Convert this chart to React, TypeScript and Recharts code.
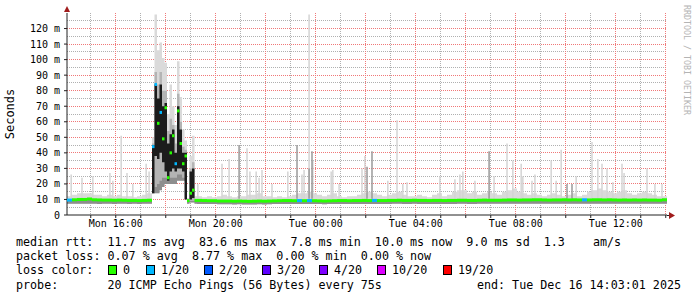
import React from "react";
import {
  ComposedChart,
  Area,
  Scatter,
  XAxis,
  YAxis,
  ReferenceLine,
  CartesianGrid,
} from "recharts";

// smokeping 24h graph, times are minutes after Mon 14:03:01 (graph start)
// 12 min bins, 6 min bins through the burst around 17:30
const binStart = [
  0, 12, 24, 36, 48, 60, 72, 84, 96, 108, 120, 132, 144, 156, 168, 180, 192,
  204, 210, 216, 222, 228, 234, 240, 246, 252, 258, 264, 270, 276, 282, 288, 294, 300, 306,
  312, 324, 336, 348, 360, 372, 384, 396, 408, 420, 432, 444, 456, 468, 480, 492, 504, 516,
  528, 540, 552, 564, 576, 588, 600, 612, 624, 636, 648, 660, 672, 684, 696, 708, 720, 732,
  744, 756, 768, 780, 792, 804, 816, 828, 840, 852, 864, 876, 888, 900, 912, 924, 936, 948,
  960, 972, 984, 996, 1008, 1020, 1032, 1044, 1056, 1068, 1080, 1092, 1104, 1116, 1128,
  1140, 1152, 1164, 1176, 1188, 1200, 1212, 1224, 1236, 1248, 1260, 1272, 1284, 1296, 1308,
  1320, 1332, 1344, 1356, 1368, 1380, 1392, 1404, 1416, 1428,
];
const END = 1440;

// median rtt (ms)
const median = [
  9.6, 9.8, 10.0, 10.0, 10.3, 9.8, 9.7, 9.6, 9.6, 9.5, 9.6, 9.5, 9.4, 9.4, 9.3, 9.4, 9.5,
  44, 84, 59, 66, 49, 69, 24, 40, 51, 33, 67, 46, 33, 38, 9.3, 14, 16, 9.4,
  9.4, 9.3, 9.2, 9.2, 9.0, 9.0, 9.0, 8.9, 9.0, 8.9, 8.8, 8.9, 9.0, 8.9, 9.0, 9.1, 9.2, 9.3,
  9.3, 9.2, 9.3, 9.2, 9.3, 9.2, 9.1, 9.0, 9.1, 9.2, 9.3, 9.3, 9.2, 9.3, 9.3, 9.4, 9.3, 9.4,
  9.3, 9.3, 9.4, 9.4, 9.5, 9.4, 9.4, 9.5, 9.4, 9.4, 9.3, 9.4, 9.4, 9.3, 9.4, 9.4, 9.5, 9.5,
  9.4, 9.4, 9.5, 9.6, 9.5, 9.5, 9.5, 9.6, 9.7, 9.7, 9.6, 9.7, 9.7, 9.8, 9.8, 9.7, 9.6, 9.7,
  9.7, 9.8, 9.7, 9.8, 9.7, 9.8, 9.7, 9.8, 9.8, 9.7, 9.8, 9.7, 9.6, 9.7, 9.6, 9.7, 9.6, 9.7,
  9.6, 9.6, 9.5, 9.8,
];

// smoke bottom / top (ms)
const smokeLo = [
  7.2, 7.3, 7.2, 7.2, 7.3, 7.2, 7.1, 7.2, 7.2, 7.1, 7.2, 7.2, 7.1, 7.2, 7.1, 7.2, 7.2,
  14, 14, 14, 16, 18, 20, 20, 20, 20, 20, 22, 22, 22, 22, 7.2, 8, 8, 7.2,
  7.1, 7.0, 7.0, 7.0, 6.9, 6.9, 6.9, 6.8, 6.9, 6.8, 6.8, 6.8, 6.9, 6.8, 6.9, 7.0, 7.0, 7.1,
  7.1, 7.0, 7.1, 7.0, 7.1, 7.0, 7.0, 6.9, 7.0, 7.0, 7.1, 7.1, 7.0, 7.1, 7.1, 7.1, 7.1, 7.1,
  7.1, 7.1, 7.1, 7.2, 7.2, 7.1, 7.1, 7.2, 7.1, 7.1, 7.1, 7.1, 7.1, 7.1, 7.1, 7.1, 7.2, 7.2,
  7.1, 7.1, 7.2, 7.2, 7.2, 7.2, 7.2, 7.2, 7.3, 7.3, 7.2, 7.3, 7.3, 7.3, 7.3, 7.3, 7.2, 7.3,
  7.3, 7.3, 7.3, 7.3, 7.3, 7.3, 7.3, 7.3, 7.3, 7.3, 7.3, 7.3, 7.2, 7.3, 7.2, 7.3, 7.2, 7.3,
  7.2, 7.2, 7.2, 7.3,
];
const smokeHi = [
  12, 13, 14, 14, 14, 13, 13, 12, 13, 12, 13, 12, 12, 11.5, 12, 13, 14,
  50, 129, 106, 111, 101, 98, 65, 84, 70, 58, 99, 76, 55, 48, 11, 38, 51, 12,
  12, 11.5, 12, 11.5, 12, 13, 12, 11.5, 12, 12, 13, 13, 14, 12, 12, 11.5, 12, 11.5,
  12, 13, 14, 14, 15, 14, 13, 12, 13, 14, 12, 11.5, 12, 12, 13, 14, 15, 14,
  13, 12, 13, 14, 15, 13, 12, 12, 13, 12, 11.5, 13, 14, 12, 13, 15, 16, 16,
  14, 15, 13, 14, 15, 14, 13, 15, 16, 17, 15, 14, 13, 14, 13, 12, 13, 14,
  13, 12, 13, 14, 12, 13, 15, 16, 17, 16, 15, 14, 15, 16, 14, 13, 14, 15,
  14, 13, 12, 12,
];

// index into LOSS_LABELS (0 = no loss, 1 = 1/20 ...)
const lossIdx = [
  1, 0, 0, 0, 0, 0, 0, 0, 0, 0, 0, 0, 0, 0, 0, 0, 0,
  1, 1, 0, 1, 0, 0, 0, 0, 0, 1, 0, 0, 0, 0, 0, 0, 0, 0,
  0, 0, 0, 0, 0, 0, 0, 0, 0, 0, 0, 0, 0, 0, 0, 0, 0, 0,
  0, 0, 1, 0, 1, 0, 0, 0, 0, 0, 0, 0, 0, 0, 0, 0, 0, 1,
  0, 0, 0, 0, 0, 0, 0, 0, 0, 0, 0, 0, 0, 0, 0, 0, 0, 0,
  0, 0, 0, 0, 0, 0, 0, 0, 0, 0, 0, 0, 0, 0, 0, 0, 0, 0,
  0, 0, 0, 0, 0, 1, 0, 0, 0, 0, 0, 0, 0, 0, 0, 0, 0, 0,
  0, 0, 0, 0,
];

// denser smoke during the burst (ms)
const burstTimes = [204, 210, 216, 222, 228, 234, 240, 246, 252, 258, 264, 270, 276, 282, 288, 294, 300, 306];
const burstMidLo = [14, 18, 20, 22, 24, 24, 22, 24, 24, 24, 26, 26, 24, 24, null, 9, 9, null];
const burstMidHi = [46, 92, 84, 92, 80, 80, 54, 62, 58, 46, 78, 60, 44, 42, null, 30, 34, null];
const burstDarkLo = [14, 38, 36, 40, 34, 28, 22, 28, 30, 28, 30, 30, 28, 10, null, 10, 11, null];
const burstDarkHi = [45, 84, 75, 84, 70, 72, 46, 52, 55, 40, 70, 55, 40, 40, null, 28, 30, null];

// single pings well above the rest
const spikeTimes = [
  10, 36, 62, 103, 110, 130, 144, 158, 190, 197, 314, 372, 389, 432, 439, 454, 461, 468,
  492, 530, 564, 569, 581, 590, 634, 638, 653, 708, 715, 770, 792, 806, 816, 895, 931, 943,
  950, 979, 1025, 1056, 1070, 1090, 1094, 1116, 1123, 1162, 1174, 1186, 1222, 1260, 1274,
  1284, 1296, 1310, 1332, 1337, 1392, 1411, 1428,
];
const spikeTops = [
  26, 24, 25, 27, 22, 51, 27, 20, 33, 28, 20, 33, 36, 43, 28, 28, 24, 29,
  20, 28, 26, 29, 129, 35, 28, 29, 20, 30, 38, 22, 61, 20, 21, 25, 23, 26,
  28, 22, 25, 46, 35, 33, 25, 22, 26, 35, 22, 42, 25, 47, 36,
  33, 30, 21, 33, 27, 30, 20, 20,
];
const darkSpikeTimes = [413, 552, 581, 588, 720, 732, 1013, 1200, 1212];
const darkSpikeTops = [45, 45, 30, 41, 31, 41, 41, 20, 20];

// hourly grid starting 15:00, every second one (even hours) is a major line
const hourTicks = Array.from({ length: 24 }, (_, i) => 57 + i * 60);
const labelTimes = [117, 357, 597, 837, 1077, 1317];
const labelTexts = ["Mon 16:00", "Mon 20:00", "Tue 00:00", "Tue 04:00", "Tue 08:00", "Tue 12:00"];
const yTicks = [0, 10, 20, 30, 40, 50, 60, 70, 80, 90, 100, 110, 120];
// 5 ms grid, every second one (multiples of 10) is a major line
const yGrid = [5, 10, 15, 20, 25, 30, 35, 40, 45, 50, 55, 60, 65, 70, 75, 80, 85, 90, 95, 100, 105, 110, 115, 120, 125];

const LOSS_LABELS = ["0", "1/20", "2/20", "3/20", "4/20", "10/20", "19/20"];
const LOSS_COLORS = ["#26ff00", "#00b8ff", "#0059ff", "#5e00ff", "#7e00ff", "#dd00ff", "#ff0000"];
const LOSS_BOX_X = [108, 146, 204, 262, 319, 377, 443];

const MONO = "'DejaVu Sans Mono', monospace";
const GRID_RED = "#f07878";
const GRID_GREY = "#b0b0b0";
const PX_PER_MIN = 600 / 1440;

const rows: any[] = [];
const medians: any[] = [];
binStart.forEach((start, i) => {
  const end = i + 1 < binStart.length ? binStart[i + 1] : END;
  const k = burstTimes.indexOf(start);
  const v = {
    lo: smokeLo[i],
    hi: smokeHi[i],
    med: median[i],
    midLo: k >= 0 ? burstMidLo[k] : null,
    midHi: k >= 0 ? burstMidHi[k] : null,
    darkLo: k >= 0 ? burstDarkLo[k] : null,
    darkHi: k >= 0 ? burstDarkHi[k] : null,
  };
  rows.push({ t: start, ...v }, { t: end, ...v });
  medians.push({ t: (start + end) / 2, med: median[i], loss: lossIdx[i], span: end - start });
});

function MedianMark(props: any) {
  const { cx, cy, payload } = props;
  const w = payload.span * PX_PER_MIN;
  return (
    <rect x={cx - w / 2} y={cy - 1.5} width={w} height={3} fill={LOSS_COLORS[payload.loss]} />
  );
}

function gridLine(p: any) {
  const major = p.index % 2 === 1;
  return (
    <line
      key={p.key}
      x1={p.x1}
      y1={p.y1}
      x2={p.x2}
      y2={p.y2}
      stroke={major ? GRID_RED : GRID_GREY}
      strokeDasharray="1 1"
      shapeRendering="crispEdges"
    />
  );
}

const legendRow: React.CSSProperties = {
  position: "absolute",
  left: 16,
  fontFamily: MONO,
  fontSize: 11.7,
  lineHeight: "14px",
  whiteSpace: "pre",
  color: "#000",
};

export default function App() {
  return (
    <div style={{ position: "absolute", left: 0, top: 0, width: 697, height: 297, background: "#fff", overflow: "hidden" }}>
      <ComposedChart width={697} height={297} data={rows} margin={{ top: 13, right: 30, bottom: 62, left: 0 }}>
        <CartesianGrid
          horizontalValues={yGrid}
          verticalValues={hourTicks}
          horizontal={gridLine}
          vertical={gridLine}
        />
        <XAxis
          dataKey="t"
          type="number"
          domain={[0, END]}
          ticks={hourTicks}
          interval={0}
          height={20}
          tickFormatter={(v: number) => {
            const i = labelTimes.indexOf(v);
            return i >= 0 ? labelTexts[i] : "";
          }}
          tick={{ fontSize: 10, fill: "#000", fontFamily: MONO }}
          tickSize={3}
          tickMargin={2}
          stroke="#222"
        />
        <YAxis
          type="number"
          domain={[0, 130]}
          ticks={yTicks}
          interval={0}
          width={67}
          tickFormatter={(v: number) => (v === 0 ? "0" : `${v} m`)}
          tick={{ fontSize: 10, fill: "#000", fontFamily: MONO }}
          tickSize={3}
          tickMargin={4}
          stroke="#222"
        />

        <Area type="linear" dataKey={(d: any) => [d.lo, d.hi]} stroke="none" fill="#dadada" fillOpacity={1} isAnimationActive={false} />
        <Area type="linear" dataKey={(d: any) => [d.lo, d.med]} stroke="none" fill="#8e8e8e" fillOpacity={1} isAnimationActive={false} />
        <Area
          type="linear"
          dataKey={(d: any) => (d.midLo == null ? null : [d.midLo, d.midHi])}
          stroke="none"
          fill="#b4b4b4"
          fillOpacity={1}
          isAnimationActive={false}
        />
        <Area
          type="linear"
          dataKey={(d: any) => (d.darkLo == null ? null : [d.darkLo, d.darkHi])}
          stroke="none"
          fill="#1c1c1c"
          fillOpacity={1}
          isAnimationActive={false}
        />

        {spikeTimes.map((t, i) => (
          <ReferenceLine key={`s${i}`} segment={[{ x: t, y: 10.5 }, { x: t, y: spikeTops[i] }]} stroke="#d4d4d4" strokeWidth={1.5} />
        ))}
        {darkSpikeTimes.map((t, i) => (
          <ReferenceLine key={`d${i}`} segment={[{ x: t, y: 10.5 }, { x: t, y: darkSpikeTops[i] }]} stroke="#9a9a9a" strokeWidth={1.5} />
        ))}

        <Scatter data={medians} dataKey="med" shape={MedianMark} isAnimationActive={false} />
      </ComposedChart>

      <svg width={697} height={297} style={{ position: "absolute", left: 0, top: 0, pointerEvents: "none" }}>
        <line x1={667} y1={215.5} x2={670} y2={215.5} stroke="#222" />
        <polygon points="64,12 70,12 67,6" fill="#a01c1c" />
        <polygon points="669,212 669,219 675,215.5" fill="#a01c1c" />
      </svg>

      <div
        style={{
          position: "absolute",
          left: 10,
          top: 114,
          transform: "translate(-50%, -50%) rotate(-90deg)",
          fontFamily: MONO,
          fontSize: 12,
          color: "#000",
          whiteSpace: "nowrap",
        }}
      >
        Seconds
      </div>
      <div
        style={{
          position: "absolute",
          left: 682,
          top: 5,
          writingMode: "vertical-rl",
          fontFamily: MONO,
          fontSize: 8.3,
          color: "#b4b4b4",
          whiteSpace: "nowrap",
        }}
      >
        RRDTOOL / TOBI OETIKER
      </div>

      <div style={{ ...legendRow, top: 234.5 }}>
        {"median rtt:  11.7 ms avg  83.6 ms max  7.8 ms min  10.0 ms now  9.0 ms sd  1.3    am/s"}
      </div>
      <div style={{ ...legendRow, top: 249 }}>
        {"packet loss: 0.07 % avg  8.77 % max  0.00 % min  0.00 % now"}
      </div>
      <div style={{ ...legendRow, top: 263 }}>{"loss color:"}</div>
      {LOSS_LABELS.map((label, i) => (
        <React.Fragment key={label}>
          <div
            style={{
              position: "absolute",
              left: LOSS_BOX_X[i],
              top: 265,
              width: 7,
              height: 8,
              background: LOSS_COLORS[i],
              border: "1px solid #000",
            }}
          />
          <div style={{ ...legendRow, left: LOSS_BOX_X[i] + 15, top: 263 }}>{label}</div>
        </React.Fragment>
      ))}
      <div style={{ ...legendRow, top: 277.5 }}>
        {"probe:       20 ICMP Echo Pings (56 Bytes) every 75s"}
      </div>
      <div style={{ ...legendRow, left: "auto", right: 16, top: 277.5 }}>
        {"end: Tue Dec 16 14:03:01 2025"}
      </div>
    </div>
  );
}
